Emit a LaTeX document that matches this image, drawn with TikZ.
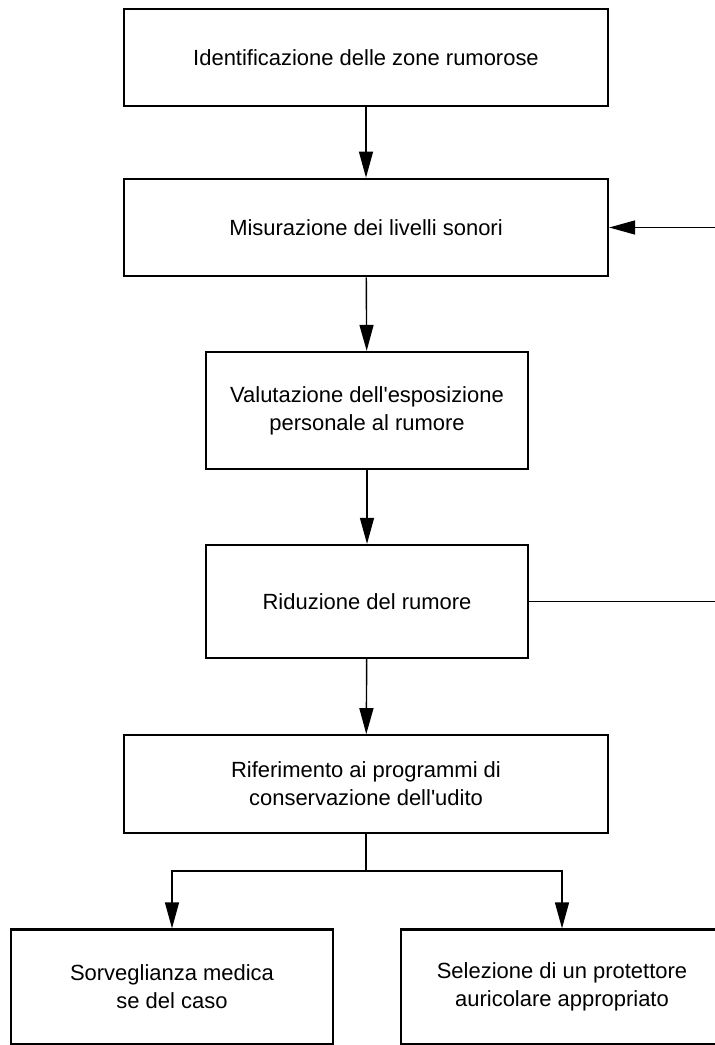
\documentclass[tikz,border=0pt]{standalone}
\usepackage{fontspec}
\setmainfont{Liberation Sans}
\usepackage{tikz}
\usetikzlibrary{shapes,arrows.meta,positioning,calc}
\tikzstyle{line} = [draw, line width=0.8pt, -{Triangle[length=5.2mm,width=2.8mm]}]
\tikzstyle{block} = [draw, line width=1.3pt, align=center, font=\fontsize{12.5}{16}\selectfont]
\tikzset{wide/.style={minimum width=9.68cm, minimum height=1.95cm},
         narrow/.style={minimum width=6.44cm, minimum height=2.3cm}}

\begin{document}
\begin{tikzpicture}
      \useasboundingbox (0,0) rectangle (14.28,-20.9);
      \node [block,wide] (ident) at (7.32,-1.15) {Identificazione delle zone rumorose};
      \node [block,wide] (misura) at (7.32,-4.55) {Misurazione dei livelli sonori};
      \node [block,narrow,minimum height=2.34cm] (valuta) at (7.34,-8.21) {Valutazione dell\textquotesingle esposizione\\personale al rumore};
      \node [block,narrow,minimum height=2.26cm] (riduz) at (7.34,-12.03) {Riduzione del rumore};
      \node [block,wide] (rifer) at (7.32,-15.68) {Riferimento ai programmi di\\conservazione dell\textquotesingle udito};
      \node [block,narrow] (sorv) at (3.44,-19.74) {Sorveglianza medica\\se del caso};
      \node [block,narrow] (selez) at (11.24,-19.74) {Selezione di un protettore\\auricolare appropriato};
      \path [line] (ident) -- (misura);
      \path [line] (misura) -- (valuta);
      \path [line] (valuta) -- (riduz);
      \path [line] (riduz) -- (rifer);
      % ritorno verso la misurazione
      \path [line] (riduz.east) -- (14.45,-12.03) |- (misura.east);
      \path [line,-] (rifer.south) -- ++(0,-0.74) coordinate (split);
      \path [line] (split) -| (sorv.north);
      \path [line] (split) -| (selez.north);
    \end{tikzpicture}
\end{document}
